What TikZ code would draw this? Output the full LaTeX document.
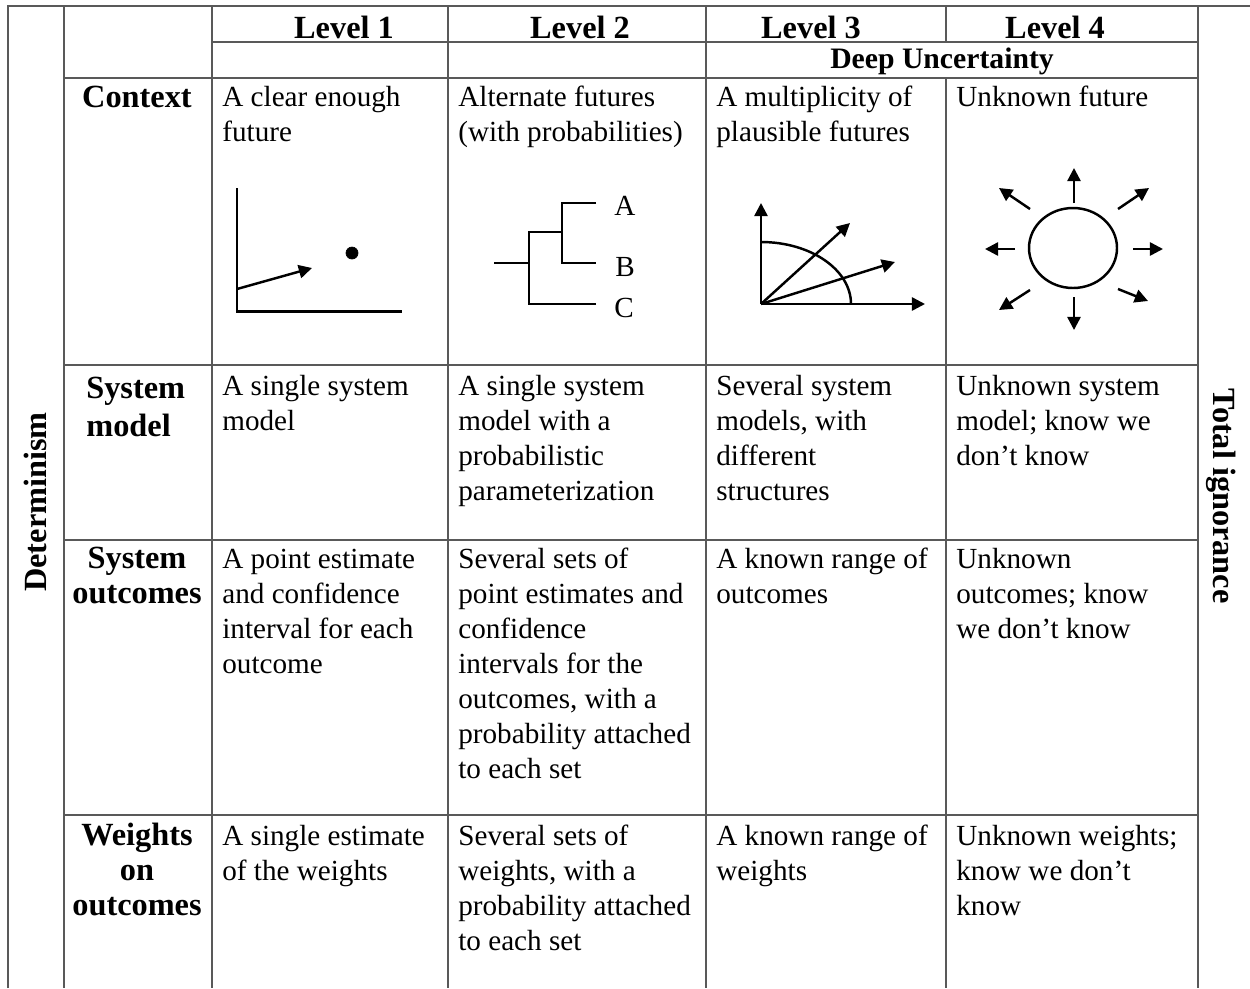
\documentclass[tikz,border=0pt]{standalone}
\usepackage{fontspec}
\setmainfont{Liberation Serif}
\usetikzlibrary{arrows.meta}
\newcommand{\bodyfont}{\fontsize{16.6pt}{19.9pt}\selectfont}
\newcommand{\headfont}{\fontsize{18.4pt}{19.9pt}\selectfont\bfseries}
\newcommand{\deepfont}{\fontsize{16.9pt}{19.9pt}\selectfont\bfseries}
\begin{document}
\begin{tikzpicture}[x=0.02cm, y=-0.02cm,
  grid/.style={line width=1.1pt, black!65},
  cell/.style={anchor=north west, inner sep=0pt, align=left, font=\bodyfont},
  rowhead/.style={anchor=north, inner sep=0pt, align=center, font=\headfont},
  levelhead/.style={anchor=base, inner sep=0pt, font=\headfont},
  sketch/.style={line width=1.4pt},
  fut/.style={sketch, -{Triangle[length=7.5pt, width=7.5pt]}}]
\useasboundingbox (0,0) rectangle (1250,988);
\draw[grid] (8,988) -- (8,6) -- (1250,6);
\foreach \x in {64,212,448,706,1198} \draw[grid] (\x,6) -- (\x,988);
\draw[grid] (946,6) -- (946,42);
\draw[grid] (946,78) -- (946,988);
\draw[grid] (212,42) -- (1198,42);
\foreach \y in {78,365,540,815} \draw[grid] (64,\y) -- (1198,\y);
\node[levelhead] (lvl1) at (344,38) {Level 1};
\node[levelhead] (lvl2) at (580,38) {Level 2};
\node[levelhead] (lvl3) at (811,38) {Level 3};
\node[levelhead] (lvl4) at (1055,38) {Level 4};
\node[levelhead, font=\deepfont] (deep) at (942,68) {Deep Uncertainty};
\node[levelhead, rotate=90] (determ) at (46,502) {Determinism};
\node[levelhead, rotate=-90] (ignor) at (1213,496) {Total ignorance};
\node[rowhead] (context) at (137,82.5) {\strut Context};
\node[rowhead, anchor=north west, align=left] (sysmodel) at (86,373.5) {\strut System\\[1.7pt]model};
\node[rowhead] (sysout) at (137,543.5) {\strut System\\outcomes};
\node[rowhead] (weights) at (137,820.5) {\strut Weights\\on\\outcomes};
\node[cell] (ctx1) at (222,82) {\strut A clear enough\\future};
\node[cell] (ctx2) at (458,82) {\strut Alternate futures\\(with probabilities)};
\node[cell] (ctx3) at (716,82) {\strut A multiplicity of\\plausible futures};
\node[cell] (ctx4) at (956,82) {\strut Unknown future};
\node[cell] (mod1) at (222,370.5) {\strut A single system\\model};
\node[cell] (mod2) at (458,370.5) {\strut A single system\\model with a\\probabilistic\\parameterization};
\node[cell] (mod3) at (716,370.5) {\strut Several system\\models, with\\different\\structures};
\node[cell] (mod4) at (956,370.5) {\strut Unknown system\\model; know we\\don’t know};
\node[cell] (out1) at (222,543.5) {\strut A point estimate\\and confidence\\interval for each\\outcome};
\node[cell] (out2) at (458,543.5) {\strut Several sets of\\point estimates and\\confidence\\intervals for the\\outcomes, with a\\probability attached\\to each set};
\node[cell] (out3) at (716,543.5) {\strut A known range of\\outcomes};
\node[cell] (out4) at (956,543.5) {\strut Unknown\\outcomes; know\\we don’t know};
\node[cell] (wgt1) at (222,820.5) {\strut A single estimate\\of the weights};
\node[cell] (wgt2) at (458,820.5) {\strut Several sets of\\weights, with a\\probability attached\\to each set};
\node[cell] (wgt3) at (716,820.5) {\strut A known range of\\weights};
\node[cell] (wgt4) at (956,820.5) {\strut Unknown weights;\\know we don’t\\know};
\draw[sketch, line width=1.7pt] (237,188) -- (237,311) -- (402,311);
\draw[fut] (237,289) -- (312,268);
\filldraw (352,253) circle[radius=6];
\draw[sketch] (494,263) -- (529,263);
\draw[sketch] (596,304) -- (529,304) -- (529,232) -- (562,232);
\draw[sketch] (596,203) -- (562,203) -- (562,263) -- (596,263);
\node[anchor=base west, inner sep=0pt, font=\bodyfont] (futa) at (614,215) {A};
\node[anchor=base west, inner sep=0pt, font=\bodyfont] (futb) at (615,276) {B};
\node[anchor=base west, inner sep=0pt, font=\bodyfont] (futc) at (614,317) {C};
\coordinate (orig) at (761,304);
\draw[fut] (orig) -- (761,203);
\draw[fut] (orig) -- (925,304);
\draw[sketch] (761,242) arc[start angle=-90, end angle=0, x radius=90, y radius=62];
\draw[fut] (orig) -- (850,223);
\draw[fut] (orig) -- (895,262);
\draw[sketch] (1073,248) ellipse[x radius=44, y radius=40];
\foreach \xa/\ya/\xb/\yb in {1074/203/1074/168, 1074/297/1074/330, 1015/249/985/249, 1133/249/1163/249, 1030/209/999/188, 1118/209/1149/188, 1030/290/999/310, 1118/289/1148/301}
  \draw[fut] (\xa,\ya) -- (\xb,\yb);
\end{tikzpicture}
\end{document}
